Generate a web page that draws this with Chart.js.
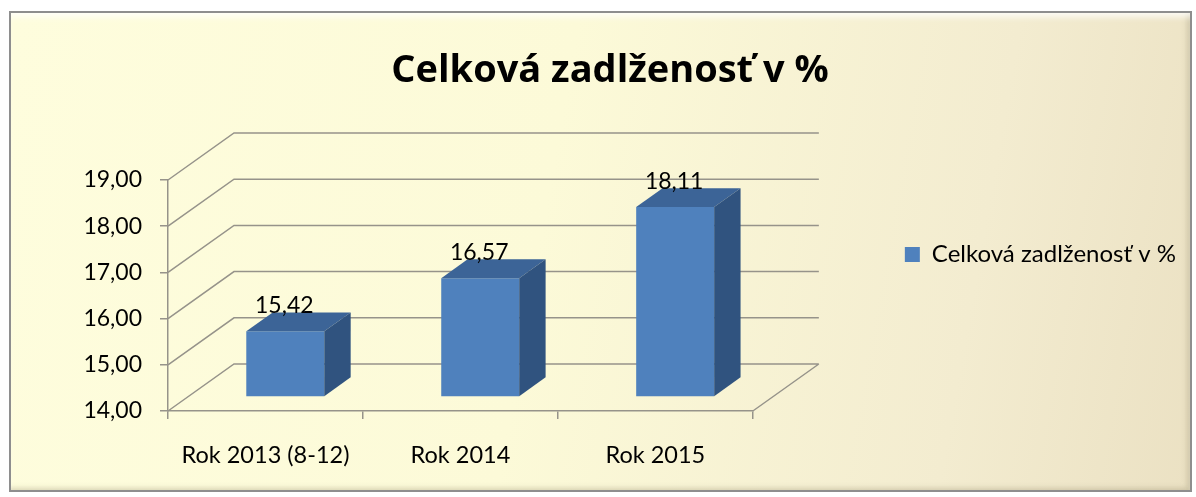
<!DOCTYPE html>
<html>
<head>
<meta charset="utf-8">
<script src="https://cdn.jsdelivr.net/npm/chart.js@4.4.1/dist/chart.umd.min.js"></script>
<style>
  html, body { margin: 0; padding: 0; background: #fff; }
  #frame {
    position: absolute; left: 9px; top: 11px; width: 1183px; height: 481px;
    box-sizing: border-box; border: 2px solid #8e8e8e;
    background: linear-gradient(100deg, #fefddd 0%, #fcfad8 45%, #f3ecd0 80%, #ebe1c3 100%);
    box-shadow: inset 0 7px 6px -3px rgba(255,255,255,0.8), inset -5px -4px 5px -2px rgba(150,140,110,0.35);
  }
  #chart { position: absolute; left: 0; top: 0; }
</style>
</head>
<body>
<div id="frame"></div>
<canvas id="chart" width="1196" height="497"></canvas>
<script>
// chart data
const categories = ['Rok 2013 (8-12)', 'Rok 2014', 'Rok 2015'];
const values = [15.42, 16.57, 18.11];
const seriesName = 'Celková zadlženosť v %';
const yMin = 14;
const yMax = 19;

const FONT = 'Lato, sans-serif';
const GRID = '#96938a';
// fake 3D depth of the floor / back wall
const DX = 66, DY = -47;
const BAR_FRONT = 0.3, BAR_DEPTH = 0.4;

const fmt = v => v.toFixed(2).replace('.', ',');

const wall3d = {
  id: 'wall3d',
  beforeDatasetsDraw(chart) {
    const { ctx, chartArea: a, scales: { y } } = chart;
    ctx.save();
    ctx.strokeStyle = GRID;
    ctx.lineWidth = 1.5;
    ctx.beginPath();
    y.ticks.forEach(t => {
      const py = y.getPixelForValue(t.value);
      ctx.moveTo(a.left, py);
      ctx.lineTo(a.left + DX, py + DY);
      ctx.lineTo(a.right + DX, py + DY);
    });
    // right edge of the floor
    ctx.moveTo(a.right, a.bottom);
    ctx.lineTo(a.right + DX, a.bottom + DY);
    ctx.stroke();
    ctx.restore();
  },
  beforeDatasetDraw(chart) {
    chart.ctx.save();
    chart.ctx.translate(DX * BAR_FRONT, DY * BAR_FRONT);
  },
  afterDatasetDraw(chart, args) {
    const ctx = chart.ctx;
    const dx = DX * BAR_DEPTH, dy = DY * BAR_DEPTH;
    args.meta.data.forEach(bar => {
      const l = bar.x - bar.width / 2, r = bar.x + bar.width / 2;
      ctx.fillStyle = '#3c6497';
      ctx.beginPath();
      ctx.moveTo(l, bar.y); ctx.lineTo(r, bar.y);
      ctx.lineTo(r + dx, bar.y + dy); ctx.lineTo(l + dx, bar.y + dy);
      ctx.closePath(); ctx.fill();
      ctx.fillStyle = '#30537f';
      ctx.beginPath();
      ctx.moveTo(r, bar.y); ctx.lineTo(r, bar.base);
      ctx.lineTo(r + dx, bar.base + dy); ctx.lineTo(r + dx, bar.y + dy);
      ctx.closePath(); ctx.fill();
    });
    ctx.restore();
  },
  afterDatasetsDraw(chart) {
    const ctx = chart.ctx;
    const meta = chart.getDatasetMeta(0);
    ctx.save();
    ctx.font = '23px ' + FONT;
    ctx.fillStyle = '#000';
    ctx.textAlign = 'center';
    ctx.textBaseline = 'alphabetic';
    meta.data.forEach((bar, i) => {
      const x = bar.x + DX * BAR_FRONT - 1;
      const yTop = bar.y + DY * (BAR_FRONT + BAR_DEPTH);
      ctx.fillText(fmt(values[i]), x, yTop + 1);
    });
    ctx.restore();
  }
};

const titleSize = 38;

new Chart(document.getElementById('chart'), {
  type: 'bar',
  data: {
    labels: categories,
    datasets: [{
      label: seriesName,
      data: values,
      base: yMin,
      backgroundColor: '#4f81bd',
      borderWidth: 0,
      barPercentage: 0.4,
      categoryPercentage: 1
    }]
  },
  options: {
    responsive: false,
    animation: false,
    layout: { padding: { left: 34, right: 10, top: 12, bottom: 0 } },
    plugins: {
      title: {
        display: true,
        text: seriesName,
        color: '#000',
        font: { family: '"Open Sans", sans-serif', size: titleSize, weight: 'bold', lineHeight: 1.2 },
        padding: { top: 36.5, bottom: 180 - 12 - 36.5 - 1.2 * titleSize }
      },
      legend: {
        position: 'right',
        maxWidth: 400,
        labels: { boxWidth: 15, boxHeight: 15, color: '#000', font: { family: FONT, size: 24 } }
      },
      tooltip: { enabled: false }
    },
    scales: {
      x: {
        grid: { drawOnChartArea: false, tickLength: 8, color: GRID, lineWidth: 1.5 },
        border: { color: GRID, width: 1.5 },
        ticks: { color: '#000', font: { family: FONT, size: 23.5 }, padding: 22 },
        afterFit(s) { s.height = 86; }
      },
      y: {
        min: yMin,
        max: yMax,
        grid: { drawOnChartArea: false, tickLength: 8, color: GRID, lineWidth: 1.5 },
        border: { color: GRID, width: 1.5 },
        ticks: { stepSize: 1, color: '#000', font: { family: FONT, size: 23 }, padding: 18, callback: v => fmt(v) },
        afterFit(s) { s.width = 134; }
      },
      gap: {
        position: 'right',
        grid: { display: false },
        border: { display: false },
        ticks: { display: false },
        afterFit(s) { s.width = 142; }
      }
    }
  },
  plugins: [wall3d]
});
</script>
</body>
</html>
